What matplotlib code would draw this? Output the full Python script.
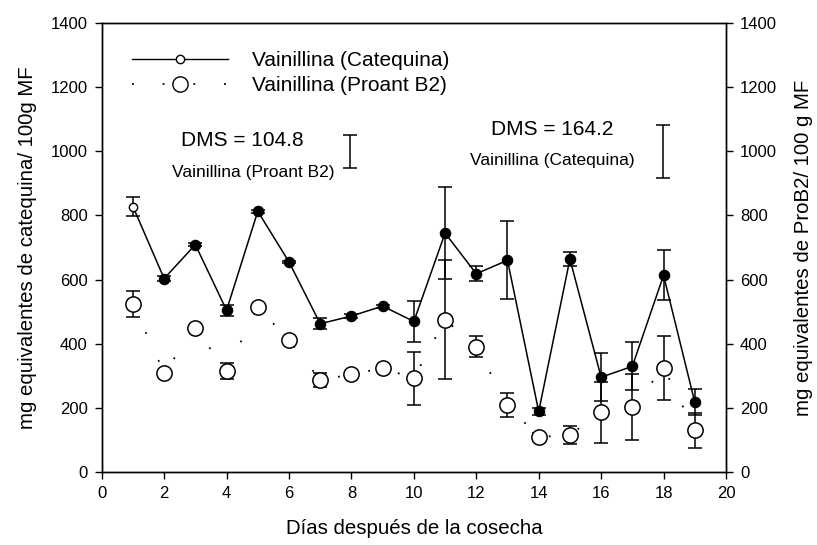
import matplotlib
matplotlib.use("Agg")
import matplotlib.pyplot as plt
from matplotlib.lines import Line2D

plt.rcParams['font.family'] = ['Liberation Sans', 'DejaVu Sans']

dias = [1, 2, 3, 4, 5, 6, 7, 8, 9, 10, 11, 12, 13, 14, 15, 16, 17, 18, 19]
catequina = [828, 603, 709, 504, 813, 655, 462, 486, 517, 469, 745, 618, 660, 188, 664, 295, 329, 613, 217]
catequina_err = [30, 8, 4, 17, 4, 4, 18, 5, 5, 64, 144, 24, 122, 10, 21, 75, 75, 78, 40]
proant = [523, 309, 448, 314, 514, 411, 286, 304, 323, 292, 475, 390, 208, 108, 115, 185, 201, 325, 129]
proant_err = [40, 5, 4, 24, 4, 4, 23, 4, 4, 83, 185, 33, 37, 12, 28, 95, 103, 100, 55]

dms_proant = 104.8
dms_catequina = 164.2

fig = plt.figure(figsize=(8.17, 5.45), dpi=100)
ax = fig.add_axes([0.1245, 0.1345, 0.7641, 0.8227])
ax2 = ax.twinx()

# Proant B2 series (sparse dotted line, large open circles)
ax.plot(dias, proant, color='black', linewidth=1.3, linestyle=(0, (1, 16)), zorder=2)
ax.errorbar(dias, proant, yerr=proant_err, fmt='none', ecolor='black',
            elinewidth=1.1, capsize=5, capthick=1.1, zorder=3)
ax.plot(dias, proant, linestyle='none', marker='o', markersize=11,
        markerfacecolor='white', markeredgecolor='black', markeredgewidth=1.1, zorder=4)

# Catequina series (solid line, filled circles; first point open)
ax.plot(dias, catequina, color='black', linewidth=1.1, zorder=5)
ax.errorbar(dias, catequina, yerr=catequina_err, fmt='none', ecolor='black',
            elinewidth=1.1, capsize=5, capthick=1.1, zorder=6)
ax.plot(dias[1:], catequina[1:], linestyle='none', marker='o', markersize=7.3,
        markerfacecolor='black', markeredgecolor='black', zorder=7)
ax.plot(dias[:1], catequina[:1], linestyle='none', marker='o', markersize=6,
        markerfacecolor='white', markeredgecolor='black', markeredgewidth=1.0, zorder=7)

# DMS bars
ax.errorbar([7.95], [1000], yerr=[dms_proant / 2], fmt='none', ecolor='black',
            elinewidth=1.1, capsize=5, capthick=1.1)
ax.errorbar([17.97], [999], yerr=[dms_catequina / 2], fmt='none', ecolor='black',
            elinewidth=1.1, capsize=5, capthick=1.1)
ax.text(4.49, 1033, 'DMS = 104.8', ha='center', va='center', fontsize=15)
ax.text(4.85, 933, 'Vainillina (Proant B2)', ha='center', va='center', fontsize=12.5)
ax.text(14.42, 1070, 'DMS = 164.2', ha='center', va='center', fontsize=15)
ax.text(14.44, 971, 'Vainillina (Catequina)', ha='center', va='center', fontsize=12.5)

ax.set_xlim(0, 20)
ax.set_ylim(0, 1400)
ax2.set_ylim(0, 1400)
ax.set_xticks(range(0, 21, 2))
ax.set_yticks(range(0, 1401, 200))
ax2.set_yticks(range(0, 1401, 200))
for a in (ax, ax2):
    a.tick_params(direction='out', length=5, width=1, labelsize=12, pad=5)
    for s in a.spines.values():
        s.set_linewidth(1.0)

ax.set_xlabel('Días después de la cosecha', fontsize=14.7, labelpad=13)
ax.set_ylabel('mg equivalentes de catequina/ 100g MF', fontsize=14.7, labelpad=10)
ax2.set_ylabel('mg equivalentes de ProB2/ 100 g MF', fontsize=14.7, labelpad=12)

handles = [
    Line2D([], [], color='black', linewidth=1.0, marker='o', markersize=6,
           markerfacecolor='white', markeredgecolor='black'),
    Line2D([], [], color='black', linewidth=1.3, linestyle=(0, (1, 16)), marker='o',
           markersize=11, markerfacecolor='white', markeredgecolor='black'),
]
ax.legend(handles, ['Vainillina (Catequina)', 'Vainillina (Proant B2)'],
          loc='upper left', bbox_to_anchor=(0.035, 0.957), frameon=False,
          fontsize=15, handlelength=4.6, handletextpad=1.15, labelspacing=0.3,
          borderaxespad=0)

fig.savefig('out.png', dpi=100)
